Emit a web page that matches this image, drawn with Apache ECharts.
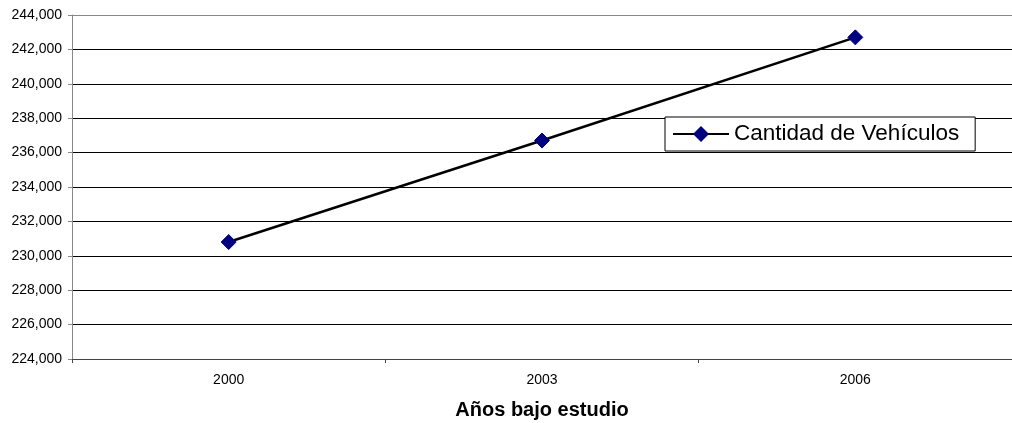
<!DOCTYPE html>
<html>
<head>
<meta charset="utf-8">
<script src="https://cdn.jsdelivr.net/npm/echarts@6/dist/echarts.min.js"></script>
<style>
  html, body { margin: 0; padding: 0; background: #fff; }
  #chart { width: 1012px; height: 423px; }
</style>
</head>
<body>
<div id="chart"></div>
<script>
// Years surveyed and vehicle counts
const years = ['2000', '2003', '2006'];
const vehicles = [230800, 236700, 242700];
const seriesName = 'Cantidad de Vehículos';
const xAxisTitle = 'Años bajo estudio';

const chart = echarts.init(document.getElementById('chart'));

// Horizontal grid lines: black, except the top border which is grey
const gridColors = [];
for (let i = 0; i < 10; i++) gridColors.push('#000');
gridColors.push('#888');

const FONT = 'Liberation Sans, Arial, sans-serif';

chart.setOption({
  animation: false,
  textStyle: { fontFamily: FONT },
  grid: {
    left: 72, right: 0, top: 15, bottom: 64,
    containLabel: false,
    outerBoundsMode: 'none'
  },
  legend: {
    data: [seriesName],
    left: 665,
    top: 117,
    padding: [4, 16, 4, 7],
    itemWidth: 56,
    itemHeight: 20,
    backgroundColor: '#fff',
    borderColor: '#000',
    borderWidth: 1,
    borderRadius: 0,
    textStyle: { fontSize: 22.5, lineHeight: 26, color: '#000', fontFamily: FONT }
  },
  xAxis: {
    type: 'category',
    data: years,
    boundaryGap: true,
    name: xAxisTitle,
    nameLocation: 'middle',
    nameGap: 41,
    nameTextStyle: { fontSize: 20, fontWeight: 'bold', color: '#000', fontFamily: FONT },
    axisLine: { lineStyle: { color: '#444', width: 1 } },
    axisTick: { show: true, length: 4, lineStyle: { color: '#444' } },
    axisLabel: { fontSize: 14, color: '#000', margin: 14, fontFamily: FONT },
    splitLine: { show: false }
  },
  yAxis: {
    type: 'value',
    min: 224000,
    max: 244000,
    interval: 2000,
    axisLine: { show: true, lineStyle: { color: '#888', width: 1 } },
    axisTick: { show: true, length: 4, lineStyle: { color: '#888' } },
    axisLabel: {
      fontSize: 14,
      color: '#000',
      margin: 10,
      fontFamily: FONT,
      formatter: v => v.toLocaleString('en-US')
    },
    splitLine: { show: true, lineStyle: { color: gridColors, width: 1 } }
  },
  series: [{
    name: seriesName,
    type: 'line',
    data: vehicles,
    symbol: 'diamond',
    symbolSize: 15,
    lineStyle: { color: '#000', width: 2.5 },
    itemStyle: { color: '#000080', borderColor: '#000080' }
  }]
});
</script>
</body>
</html>
